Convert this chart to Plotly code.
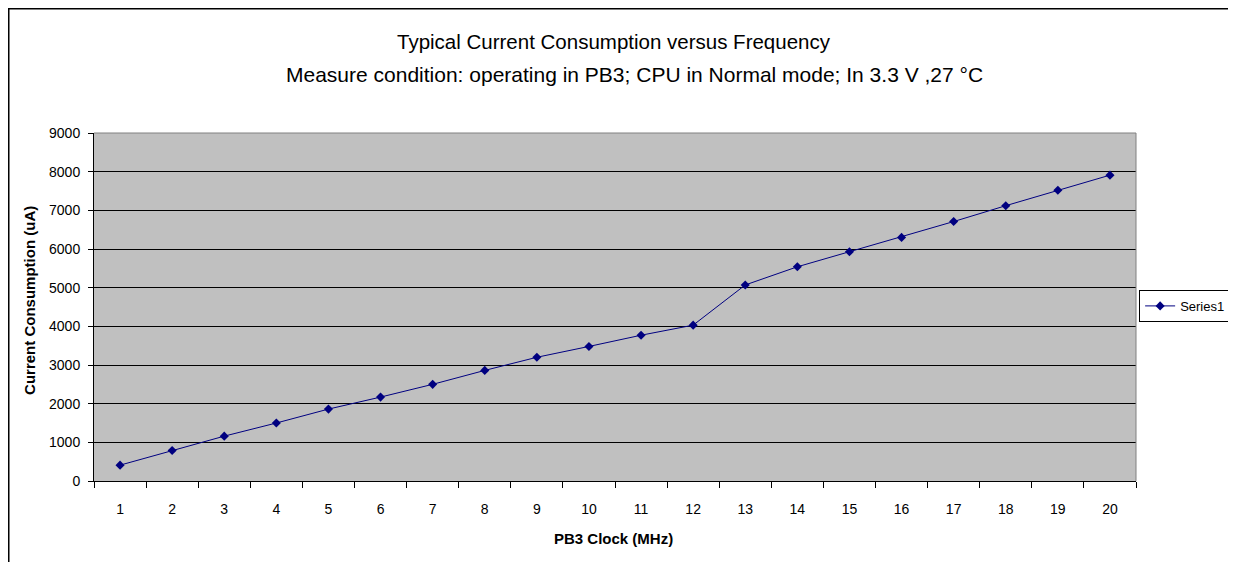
import plotly.graph_objects as go

clock_mhz = [str(i) for i in range(1, 21)]
current_ua = [410, 790, 1160, 1500, 1860, 2170, 2500, 2860, 3200, 3480,
              3770, 4030, 5070, 5540, 5930, 6300, 6710, 7120, 7520, 7910]
y_ticks = [0, 1000, 2000, 3000, 4000, 5000, 6000, 7000, 8000, 9000]

title_line1 = "Typical Current Consumption versus Frequency"
title_line2 = "Measure condition: operating in PB3; CPU in Normal mode; In 3.3 V ,27 °C"

FONT = "Liberation Sans, Arial, sans-serif"

fig = go.Figure()
fig.add_trace(go.Scatter(
    x=clock_mhz, y=current_ua, mode="lines+markers", name="Series1",
    line=dict(color="#000080", width=1),
    marker=dict(symbol="diamond", size=7, color="#000080"),
))

fig.update_layout(
    width=1236, height=562,
    margin=dict(l=86, r=108, t=125, b=89, autoexpand=False),
    paper_bgcolor="white", plot_bgcolor="#C0C0C0",
    font=dict(family=FONT, size=14, color="black"),
    showlegend=True,
    legend=dict(x=1.003, y=0.503, xanchor="left", yanchor="middle",
                bordercolor="black", borderwidth=1, bgcolor="white",
                font=dict(size=13), itemwidth=30),
    xaxis=dict(type="category", tickson="boundaries", ticks="outside",
               ticklen=6, tickcolor="black", showgrid=False,
               showline=True, linecolor="black", linewidth=1,
               tickfont=dict(size=14), ticklabelstandoff=15,
               range=[-0.5, 19.5]),
    yaxis=dict(range=[0, 9000], tickvals=y_ticks, ticks="outside",
               ticklen=5, tickcolor="black", showgrid=True,
               gridcolor="black", gridwidth=1, zeroline=False,
               showline=True, linecolor="black", linewidth=1,
               tickfont=dict(size=14), ticklabelstandoff=5),
    annotations=[
        dict(text=title_line1, xref="paper", yref="paper", x=0.499, y=1.2615,
             showarrow=False, font=dict(size=20.5), xanchor="center", yanchor="middle"),
        dict(text=title_line2, xref="paper", yref="paper", x=0.519, y=1.1667,
             showarrow=False, font=dict(size=21), xanchor="center", yanchor="middle"),
        dict(text="<b>Current Consumption (uA)</b>", xref="paper", yref="paper",
             x=-0.0625, y=0.52, textangle=-90, showarrow=False,
             font=dict(size=15), xanchor="center", yanchor="middle"),
        dict(text="<b>PB3 Clock (MHz)</b>", xref="paper", yref="paper",
             x=0.499, y=-0.164, showarrow=False, font=dict(size=15),
             xanchor="center", yanchor="middle"),
    ],
    shapes=[
        dict(type="rect", xref="paper", yref="paper", x0=-0.0818, x1=1.3,
             y0=-0.4, y1=1.357, line=dict(color="black", width=1.5)),
        dict(type="line", xref="paper", yref="paper", x0=0, x1=1, y0=1, y1=1,
             line=dict(color="#808080", width=1)),
        dict(type="line", xref="paper", yref="paper", x0=1, x1=1, y0=0, y1=1,
             line=dict(color="#808080", width=1)),
    ],
)

fig.write_html("out.html")
